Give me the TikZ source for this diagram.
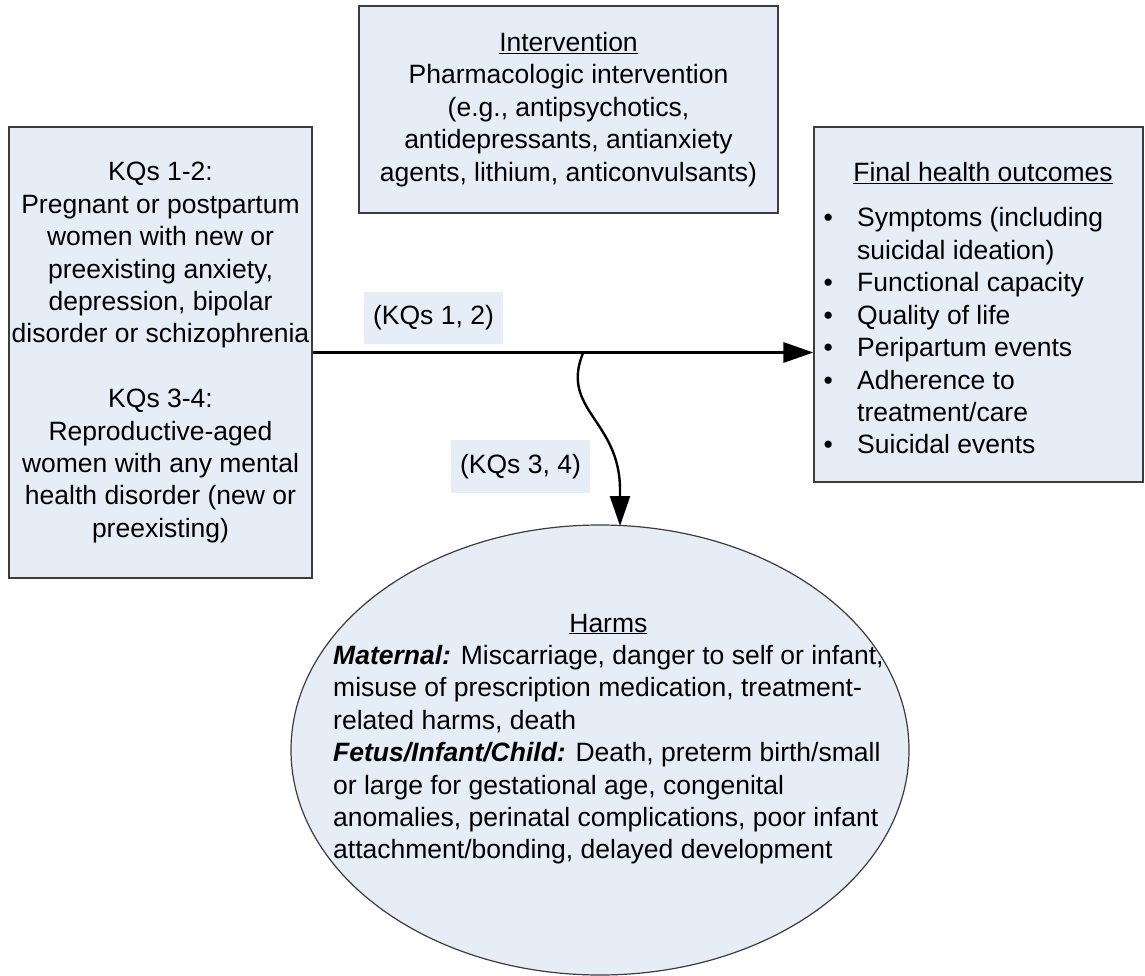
\documentclass[tikz,border=0pt]{standalone}
\usepackage{fontspec}
\setmainfont{Liberation Sans}
\usetikzlibrary{arrows.meta,shapes.geometric}
\definecolor{boxblue}{RGB}{230,237,247}
\definecolor{edgegray}{RGB}{60,60,60}
\begin{document}
\begin{tikzpicture}[
    x=1pt, y=-1pt,
    font=\fontsize{26.5}{32.4}\selectfont,
    box/.style={rectangle, draw=edgegray, line width=1.2pt, fill=boxblue, inner sep=0pt, align=center},
    lbl/.style={rectangle, fill=boxblue, inner sep=0pt},
    txt/.style={inner sep=0pt},
    >={Triangle[length=30pt, width=20pt]}
]
\useasboundingbox (0,0) rectangle (1145,976);

\node[box, minimum width=303pt, minimum height=451pt] (popn) at (160.5,352.5) {
    KQs 1-2:\\ Pregnant or postpartum\\ women with new or\\ preexisting anxiety,\\ depression, bipolar\\ disorder or schizophrenia\\[32.4pt]
    KQs 3-4:\\ Reproductive-aged\\ women with any mental\\ health disorder (new or\\ preexisting)};
\node[box, minimum width=419pt, minimum height=207pt] (interv) at (568.5,109.5) {
    \underline{Intervention}\\ Pharmacologic intervention\\ (e.g., antipsychotics,\\ antidepressants, antianxiety\\ agents, lithium, anticonvulsants)};
\node[box, minimum width=329pt, minimum height=355pt] (outcomes) at (978.5,304.5) {};
\node[txt, anchor=base] (outhead) at (983,182) {\underline{Final health outcomes}};
\node[txt, anchor=base west] (outlist) at (823.5,227) {%
    \begin{tabular}[t]{@{}p{33.5pt}@{}l@{}}
    \textbullet & Symptoms (including\\
                & suicidal ideation)\\
    \textbullet & Functional capacity\\
    \textbullet & Quality of life\\
    \textbullet & Peripartum events\\
    \textbullet & Adherence to\\
                & treatment/care\\
    \textbullet & Suicidal events
    \end{tabular}};

\node[box, ellipse, minimum width=618pt, minimum height=450pt] (harms) at (600,750) {};
\node[txt, anchor=base west] (harmtext) at (333,632) {%
    \begin{tabular}[t]{@{}l@{}}
    \multicolumn{1}{@{}c@{}}{\underline{Harms}}\\
    \textbf{\textit{Maternal:}} Miscarriage, danger to self or infant,\\
    misuse of prescription medication, treatment-\\
    related harms, death\\
    \textbf{\textit{Fetus/Infant/Child:}} Death, preterm birth/small\\
    or large for gestational age, congenital\\
    anomalies, perinatal complications, poor infant\\
    attachment/bonding, delayed development
    \end{tabular}};

\node[lbl, minimum width=139pt, minimum height=52pt] (kq12) at (433.5,318) {(KQs 1, 2)};
\node[lbl, minimum width=139pt, minimum height=53pt] (kq34) at (520.5,466.5) {(KQs 3, 4)};

\coordinate (kqsplit) at (583,353);
\coordinate (harmtop) at (620,526);

\draw[->, line width=3pt] (popn.east) -- (popn.east -| outcomes.west);
\draw[->, line width=2.4pt] (kqsplit) .. controls (560,410) and (620,420) .. (620,490) -- (harmtop);
\end{tikzpicture}
\end{document}
